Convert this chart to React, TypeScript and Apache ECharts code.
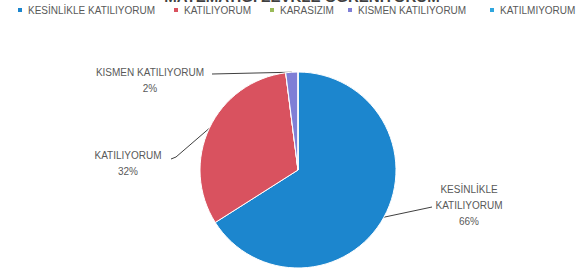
import React, { useEffect, useRef } from "react";
import * as echarts from "echarts";

const titleText = "MATEMATİĞİ ZEVKLE ÖĞRENİYORUM";
const categories = [
  "KESİNLİKLE KATILIYORUM",
  "KATILIYORUM",
  "KARASIZIM",
  "KISMEN KATILIYORUM",
  "KATILMIYORUM",
];
const values = [66, 32, 0, 2, 0];
const colors = ["#1C86CE", "#D9525F", "#9BBB59", "#7F7FD6", "#2FA6DE"];
const legendLefts = [16, 172, 268, 346, 488];

// label anchor positions (center of label block) and label-line end points
const labelAnchors: Record<number, [number, number]> = {
  0: [469, 205],
  1: [128, 163],
  3: [150, 80],
};
const lineEnds: Record<number, number[][]> = {
  0: [[432, 207]],
  1: [[176, 157], [171, 159]],
  3: [[212, 74]],
};

export default function App() {
  const ref = useRef<HTMLDivElement>(null);
  useEffect(() => {
    document.body.style.margin = "0";
    const chart = echarts.init(ref.current!, null, { renderer: "svg" });
    const textColor = "#595959";
    chart.setOption({
      animation: false,
      backgroundColor: "#ffffff",
      color: colors,
      legend: categories.map((name, i) => ({
        data: [name],
        left: legendLefts[i],
        top: 5,
        icon: "rect",
        itemWidth: 6,
        itemHeight: 6,
        padding: 0,
        selectedMode: false,
        textStyle: { fontSize: 10, color: textColor, fontFamily: "Liberation Sans" },
      })),
      graphic: [
        {
          type: "text",
          x: 302,
          y: 4,
          style: {
            text: titleText,
            align: "center",
            verticalAlign: "bottom",
            font: "bold 15px 'Liberation Sans'",
            fill: "#404040",
          },
        },
      ],
      series: [
        {
          type: "pie",
          center: [298, 170],
          radius: 98,
          startAngle: 90,
          clockwise: true,
          itemStyle: { borderColor: "#ffffff", borderWidth: 1 },
          label: {
            show: true,
            position: "outside",
            fontSize: 10,
            lineHeight: 16,
            color: textColor,
            fontFamily: "Liberation Sans",
            formatter: (p: any) =>
              (p.dataIndex === 0 ? p.name.replace(" ", "\n") : p.name) + "\n" + Math.round(p.percent) + "%",
          },
          labelLine: { show: true, length: 10, length2: 30, lineStyle: { color: "#404040", width: 1 } },
          labelLayout: (params: any) => {
            const a = labelAnchors[params.dataIndex];
            if (!a) return {};
            const start = params.labelLinePoints ? params.labelLinePoints[0] : null;
            const pts = start ? [start, ...lineEnds[params.dataIndex]] : undefined;
            return {
              x: a[0],
              y: a[1],
              align: "center",
              verticalAlign: "middle",
              labelLinePoints: pts,
            };
          },
          data: categories.map((name, i) => ({
            name,
            value: values[i],
            ...(values[i] === 0 ? { label: { show: false }, labelLine: { show: false } } : {}),
          })),
        },
      ],
    });
    return () => chart.dispose();
  }, []);
  return (
    <div
      ref={ref}
      style={{ position: "absolute", left: 0, top: 0, width: 581, height: 270 }}
    />
  );
}
